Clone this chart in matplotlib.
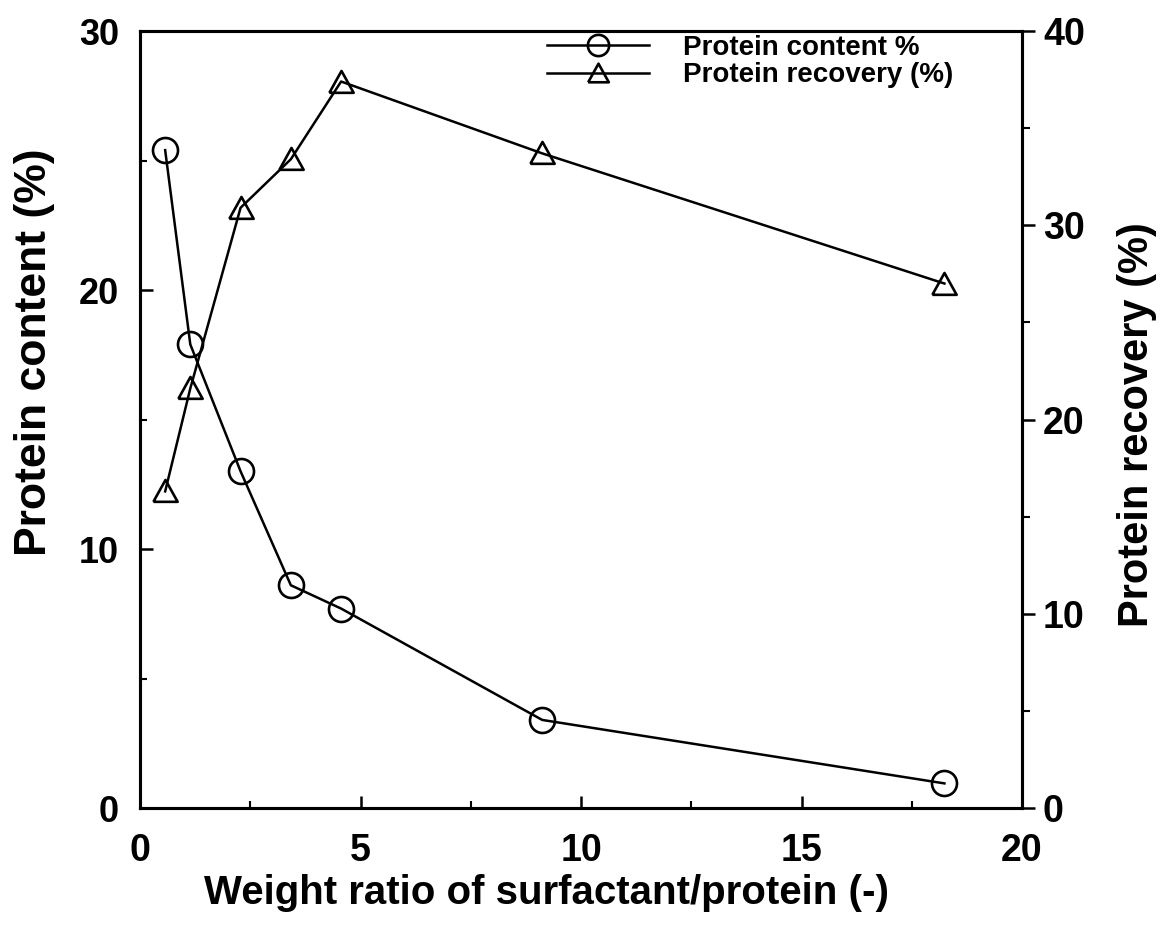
import matplotlib
matplotlib.use("Agg")
import matplotlib.pyplot as plt
from matplotlib.ticker import MultipleLocator

# Weight ratio of surfactant to protein
ratio = [0.57, 1.14, 2.28, 3.42, 4.56, 9.12, 18.24]
# Protein content of the product (%), left axis
protein_content = [25.4, 17.9, 13.0, 8.6, 7.7, 3.4, 0.95]
# Protein recovery (%), right axis
protein_recovery = [16.3, 21.6, 30.9, 33.4, 37.4, 33.7, 27.0]

x_ticks = [0, 5, 10, 15, 20]
left_ticks = [0, 10, 20, 30]
right_ticks = [0, 10, 20, 30, 40]

plt.rcParams['font.family'] = ['Liberation Sans', 'DejaVu Sans']
plt.rcParams['font.weight'] = 'bold'

fig = plt.figure(figsize=(11.63, 9.34), dpi=100)
ax = fig.add_axes([0.1204, 0.1349, 0.7584, 0.8319])
ax2 = ax.twinx()

tri = [(-1.0, -0.85), (1.0, -0.85), (0.0, 0.95), (-1.0, -0.85)]

l1, = ax.plot(ratio, protein_content, color='black', lw=1.8,
              marker='o', ms=18, mfc='none', mec='black', mew=1.9,
              label='Protein content %')
l2, = ax2.plot(ratio, protein_recovery, color='black', lw=1.8,
               marker=tri, ms=17.5, mfc='none', mec='black', mew=1.9,
               label='Protein recovery (%)')

ax.set_xlim(0, 20)
ax.set_ylim(0, 30)
ax2.set_ylim(0, 40)

ax.set_xticks(x_ticks)
ax.xaxis.set_minor_locator(MultipleLocator(2.5))
ax.set_yticks(left_ticks)
ax.yaxis.set_minor_locator(MultipleLocator(5))
ax2.set_yticks(right_ticks)
ax2.yaxis.set_minor_locator(MultipleLocator(5))

for a in (ax, ax2):
    for s in a.spines.values():
        s.set_linewidth(2.2)

ax.tick_params(axis='x', which='major', direction='in', length=9, width=1.8,
               labelsize=27, pad=18, top=False)
ax.tick_params(axis='x', which='minor', direction='in', length=5, width=1.5, top=False)
ax.tick_params(axis='y', which='major', direction='in', length=9, width=1.8,
               labelsize=26, pad=15, right=False)
ax.tick_params(axis='y', which='minor', direction='in', length=5, width=1.5, right=False)
ax2.tick_params(axis='y', which='major', direction='out', length=9, width=1.8,
                labelsize=27, pad=6)
ax2.tick_params(axis='y', which='minor', direction='out', length=6, width=1.5)

for lab in ax.get_xticklabels() + ax.get_yticklabels() + ax2.get_yticklabels():
    lab.set_fontweight('bold')

ax.set_xlabel('Weight ratio of surfactant/protein (-)', fontsize=29,
              fontweight='bold')
ax.xaxis.set_label_coords(0.461, -0.085)
ax.set_ylabel('Protein content (%)', fontsize=32, fontweight='bold')
ax.yaxis.set_label_coords(-0.096, 0.587)
ax2.set_ylabel('Protein recovery (%)', fontsize=30, fontweight='bold',
               rotation=90)
ax2.yaxis.set_label_coords(1.108, 0.493)

leg = ax2.legend(handles=[l1, l2], loc='upper left',
                 bbox_to_anchor=(0.439, 1.02), frameon=False,
                 prop={'size': 20, 'weight': 'bold'},
                 handlelength=3.7, handletextpad=1.2, labelspacing=0.05,
                 borderaxespad=0.3, markerscale=0.85)

fig.savefig('out.png', dpi=100)
